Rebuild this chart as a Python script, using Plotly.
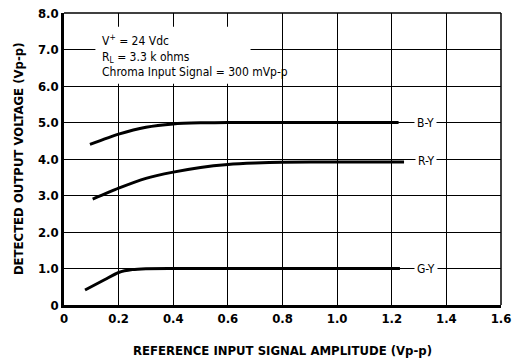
import plotly.graph_objects as go

# ---- data ----
x_by = [0.095, 0.2, 0.3, 0.4, 0.5, 0.6, 0.8, 1.0, 1.225]
y_by = [4.40, 4.68, 4.87, 4.96, 4.99, 5.0, 5.0, 5.0, 5.0]
x_ry = [0.105, 0.2, 0.3, 0.4, 0.5, 0.6, 0.7, 0.8, 1.0, 1.245]
y_ry = [2.90, 3.20, 3.47, 3.64, 3.77, 3.85, 3.89, 3.91, 3.92, 3.92]
x_gy = [0.077, 0.15, 0.2, 0.25, 0.3, 0.4, 0.6, 1.0, 1.23]
y_gy = [0.41, 0.70, 0.89, 0.97, 0.995, 1.0, 1.0, 1.0, 1.0]

series_names = ["B-Y", "R-Y", "G-Y"]
label_x = 1.325
label_y = [5.0, 3.95, 1.0]

x_tickvals = [0, 0.2, 0.4, 0.6, 0.8, 1.0, 1.2, 1.4, 1.6]
x_ticktext = ["0", "0.2", "0.4", "0.6", "0.8", "1.0", "1.2", "1.4", "1.6"]
y_tickvals = [0, 1, 2, 3, 4, 5, 6, 7, 8]
y_ticktext = ["0", "1.0", "2.0", "3.0", "4.0", "5.0", "6.0", "7.0", "8.0"]

x_title = "REFERENCE INPUT SIGNAL AMPLITUDE (Vp-p)"
y_title = "DETECTED OUTPUT VOLTAGE (Vp-p)"
note_text = "V<sup>+</sup> = 24 Vdc<br>R<sub>L</sub> = 3.3 k ohms<br>Chroma Input Signal = 300 mVp-p"

FONT = "DejaVu Sans Condensed, Liberation Sans Narrow, Arial Narrow, sans-serif"

fig = go.Figure()
for xs, ys, name in [(x_by, y_by, "B-Y"), (x_ry, y_ry, "R-Y"), (x_gy, y_gy, "G-Y")]:
    fig.add_trace(go.Scatter(x=xs, y=ys, mode="lines", name=name,
                             line=dict(color="black", width=3, shape="spline", smoothing=0.6),
                             showlegend=False))

# white box behind the condition notes
fig.add_shape(type="rect", xref="x", yref="y", x0=0.115, x1=0.683, y0=6.06, y1=7.62,
              fillcolor="white", line=dict(width=0), layer="between")
fig.add_annotation(x=0.13, y=7.53, xref="x", yref="y", text=note_text, showarrow=False,
                   xanchor="left", yanchor="top", align="left",
                   font=dict(family=FONT, size=12, color="black"))

for name, ly in zip(series_names, label_y):
    fig.add_annotation(x=label_x, y=ly, xref="x", yref="y", text=name, showarrow=False,
                       bgcolor="white", borderpad=2,
                       font=dict(family=FONT, size=12, color="black"))

# axis titles
fig.add_annotation(x=0.5, y=-0.155, xref="paper", yref="paper", text=x_title, showarrow=False,
                   xanchor="center", yanchor="middle",
                   font=dict(family=FONT, size=13, color="black", weight="bold"))
fig.add_annotation(x=-0.105, y=0.5, xref="paper", yref="paper", text=y_title, showarrow=False,
                   textangle=-90, xanchor="center", yanchor="middle",
                   font=dict(family=FONT, size=13, color="black", weight="bold"))

# top and right border
fig.add_shape(type="line", xref="paper", yref="paper", x0=0, x1=1, y0=1, y1=1,
              line=dict(color="black", width=1.5))
fig.add_shape(type="line", xref="paper", yref="paper", x0=1, x1=1, y0=0, y1=1,
              line=dict(color="black", width=1.5))

fig.update_xaxes(range=[0, 1.6], tickvals=x_tickvals, ticktext=x_ticktext,
                 showgrid=True, gridcolor="black", gridwidth=1.3, zeroline=False,
                 showline=True, linecolor="black", linewidth=2.5, automargin=False,
                 ticks="", tickfont=dict(family=FONT, size=13, color="black", weight="bold"))
fig.update_yaxes(range=[0, 8], tickvals=y_tickvals, ticktext=y_ticktext,
                 showgrid=True, gridcolor="black", gridwidth=1.3, zeroline=False,
                 showline=True, linecolor="black", linewidth=2.5, automargin=False,
                 ticks="", tickfont=dict(family=FONT, size=13, color="black", weight="bold"))

fig.update_layout(width=515, height=360, margin=dict(l=64, r=14, t=13, b=55),
                  plot_bgcolor="white", paper_bgcolor="white")

fig.write_html("out.html")
